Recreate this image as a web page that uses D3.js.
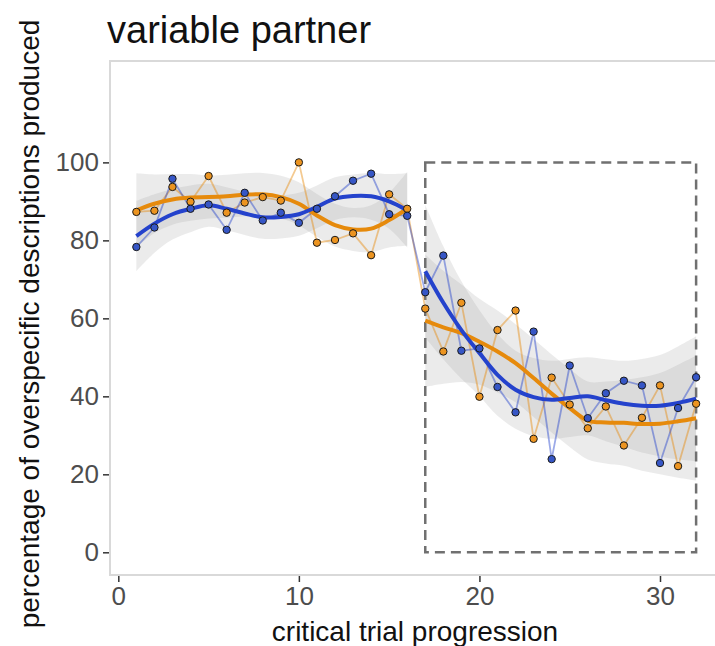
<!DOCTYPE html>
<html>
<head>
<meta charset="utf-8">
<script src="https://cdn.jsdelivr.net/npm/d3@7"></script>
<style>
  html, body { margin: 0; padding: 0; background: #fff; }
  svg { display: block; }
  text { font-family: "Liberation Sans", Arial, sans-serif; }
</style>
</head>
<body>
<svg id="chart" width="715" height="646"></svg>
<script>
// ---- data ----
const trials = d3.range(1, 33);
const orangeVals = [87.3, 87.6, 93.7, 89.9, 96.5, 87.1, 89.7, 91.1, 90.2, 100.0, 79.4, 80.1, 81.8, 76.2, 91.8, 88.1,
                    62.5, 51.5, 64.0, 39.9, 57.0, 62.0, 29.1, 44.8, 37.9, 31.8, 37.4, 27.4, 34.5, 42.8, 22.1, 38.1];
const blueVals   = [78.3, 83.3, 95.8, 88.1, 89.2, 82.7, 92.2, 85.1, 87.1, 84.5, 88.1, 91.3, 95.3, 97.1, 86.7, 86.3,
                    66.7, 76.1, 51.7, 52.3, 42.4, 35.9, 56.6, 23.9, 47.9, 34.4, 40.8, 44.0, 42.8, 22.9, 37.0, 44.9];
// smoothed fits (two segments: trials 1-16 and 17-32)
const orangeSmooth = [87.7, 89.4, 90.5, 91.0, 91.1, 91.3, 91.7, 91.8, 91.1, 89.4, 86.4, 83.9, 82.8, 83.0, 85.2, 88.1,
                      59.4, 57.7, 56.2, 54.0, 51.5, 48.5, 44.7, 40.7, 37.0, 33.8, 33.3, 33.2, 32.9, 33.0, 33.6, 34.4];
const blueSmooth   = [81.1, 84.3, 86.7, 88.1, 89.0, 88.1, 86.9, 85.9, 86.0, 86.7, 88.6, 90.7, 91.4, 91.3, 90.0, 87.7,
                      72.1, 64.0, 57.0, 51.1, 45.5, 41.7, 39.8, 39.1, 39.6, 40.0, 39.0, 38.1, 37.6, 37.6, 38.3, 39.4];
// confidence band half-widths
const orangeBand = [9.5, 7.5, 6.5, 6.0, 5.5, 5.5, 5.5, 5.5, 5.5, 5.5, 5.5, 5.5, 5.5, 6.0, 7.0, 9.5,
                    17.0, 14.5, 12.5, 11.0, 10.5, 10.0, 10.0, 10.0, 10.0, 10.0, 10.5, 11.0, 12.0, 13.0, 14.5, 16.0];
const blueBand   = [9.0, 7.5, 6.5, 6.0, 5.5, 5.5, 5.5, 5.5, 5.5, 5.5, 5.5, 5.5, 5.5, 6.0, 7.0, 9.5,
                    17.0, 14.5, 12.5, 11.0, 10.5, 10.0, 10.0, 10.0, 10.0, 10.0, 10.5, 11.0, 12.0, 13.0, 14.5, 16.0];
const segments = [[1, 16], [17, 32]];
const boxX = [17, 32];
const boxY = [0, 100];
const xTicks = [0, 10, 20, 30];
const yTicks = [0, 20, 40, 60, 80, 100];

const titleText = "variable partner";
const xTitle = "critical trial progression";
const yTitle = "percentage of overspecific descriptions produced";

// ---- layout ----
const svg = d3.select("#chart");
const P = { left: 110, right: 725, top: 61, bottom: 575 };
const x = d3.scaleLinear().domain([-0.46, 33.6]).range([P.left, P.right]);
const y = d3.scaleLinear().domain([-5.82, 126]).range([P.bottom, P.top]);

const COL = {
  orange: "#e68a0c", blue: "#2442cc",
  orangePt: "#ec9420", bluePt: "#3656c6"
};

svg.append("defs").append("clipPath").attr("id", "clip")
  .append("rect").attr("x", P.left).attr("y", P.top)
  .attr("width", P.right - P.left).attr("height", P.bottom - P.top);

const plot = svg.append("g").attr("clip-path", "url(#clip)");

const series = [
  { name: "orange", vals: orangeVals, smooth: orangeSmooth, band: orangeBand, col: COL.orange, pt: COL.orangePt },
  { name: "blue", vals: blueVals, smooth: blueSmooth, band: blueBand, col: COL.blue, pt: COL.bluePt }
];

// ribbons
const area = d3.area().x(d => x(d.t)).y0(d => y(d.lo)).y1(d => y(d.hi)).curve(d3.curveCatmullRom);
series.forEach(s => {
  segments.forEach(([a, b]) => {
    const pts = trials.filter(t => t >= a && t <= b).map(t => ({
      t, lo: s.smooth[t - 1] - s.band[t - 1], hi: s.smooth[t - 1] + s.band[t - 1]
    }));
    plot.append("path").attr("d", area(pts))
      .attr("fill", "#999999").attr("fill-opacity", 0.2);
  });
});

// dashed box
plot.append("rect")
  .attr("x", x(boxX[0])).attr("y", y(boxY[1]))
  .attr("width", x(boxX[1]) - x(boxX[0])).attr("height", y(boxY[0]) - y(boxY[1]))
  .attr("fill", "none").attr("stroke", "#707070").attr("stroke-width", 2.5)
  .attr("stroke-dasharray", "10,6");

// connecting lines
const line = d3.line().x((d, i) => x(trials[i])).y(d => y(d));
series.forEach(s => {
  plot.append("path").attr("d", line(s.vals))
    .attr("fill", "none").attr("stroke", s.col).attr("stroke-opacity", 0.45)
    .attr("stroke-width", 1.8);
});

// smooth lines
const sline = d3.line().x(d => x(d.t)).y(d => y(d.v)).curve(d3.curveCatmullRom);
series.forEach(s => {
  segments.forEach(([a, b]) => {
    const pts = trials.filter(t => t >= a && t <= b).map(t => ({ t, v: s.smooth[t - 1] }));
    plot.append("path").attr("d", sline(pts))
      .attr("fill", "none").attr("stroke", s.col).attr("stroke-width", 4)
      .attr("stroke-linecap", "butt");
  });
});

// points
series.forEach(s => {
  plot.append("g").selectAll("circle").data(s.vals).join("circle")
    .attr("cx", (d, i) => x(trials[i])).attr("cy", d => y(d)).attr("r", 3.7)
    .attr("fill", s.pt).attr("stroke", "#1a1a1a").attr("stroke-width", 1);
});

// panel border
svg.append("rect").attr("x", P.left).attr("y", P.top)
  .attr("width", P.right - P.left).attr("height", P.bottom - P.top)
  .attr("fill", "none").attr("stroke", "#d9d9d9").attr("stroke-width", 2);

// axes
const xAxis = svg.append("g").attr("transform", `translate(0,${P.bottom + 1})`)
  .call(d3.axisBottom(x).tickValues(xTicks).tickSize(6).tickPadding(5).tickFormat(d3.format("d")));
const yAxis = svg.append("g").attr("transform", `translate(${P.left - 1},0)`)
  .call(d3.axisLeft(y).tickValues(yTicks).tickSize(6).tickPadding(4).tickFormat(d3.format("d")));
[xAxis, yAxis].forEach(g => {
  g.select(".domain").remove();
  g.selectAll(".tick line").attr("stroke", "#333333").attr("stroke-width", 1.5);
  g.selectAll(".tick text").attr("fill", "#4d4d4d").attr("font-size", 26)
    .attr("font-family", "'Liberation Sans', Arial, sans-serif");
});

// titles
svg.append("text").attr("x", 107).attr("y", 43).text(titleText)
  .attr("font-size", 38).attr("fill", "#111");
svg.append("text").attr("x", 415).attr("y", 641).attr("text-anchor", "middle")
  .text(xTitle).attr("font-size", 28).attr("fill", "#111");
svg.append("text").attr("transform", `translate(39,${(P.top + P.bottom) / 2 + 6}) rotate(-90)`)
  .attr("text-anchor", "middle").text(yTitle).attr("font-size", 28).attr("fill", "#111");
</script>
</body>
</html>
